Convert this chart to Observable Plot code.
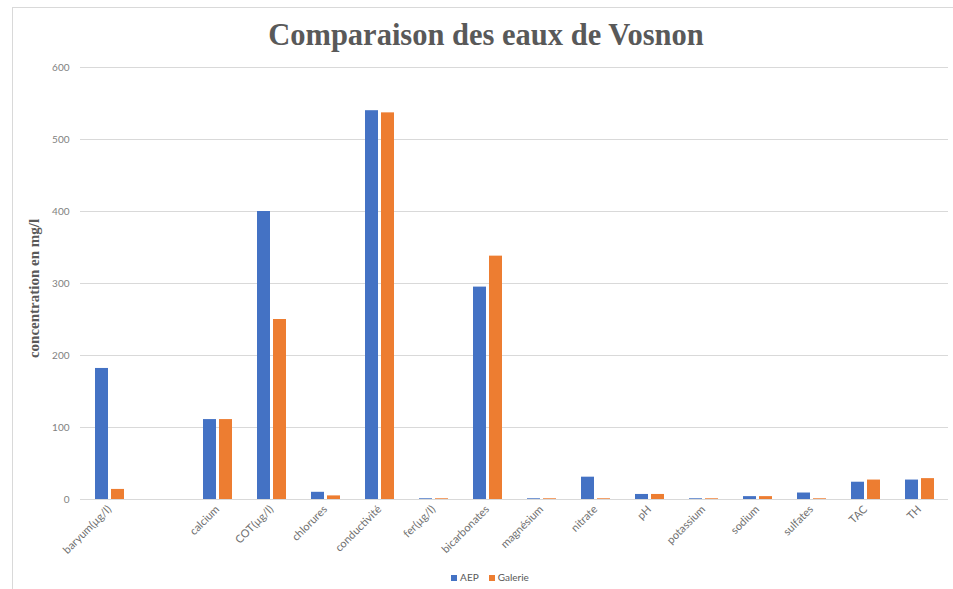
<!DOCTYPE html>
<html>
<head>
<meta charset="utf-8">
<script src="https://cdn.jsdelivr.net/npm/d3@7"></script>
<script src="https://cdn.jsdelivr.net/npm/@observablehq/plot@0.6"></script>
<style>
  html, body { margin: 0; padding: 0; background: #fff; }
  #wrap { position: relative; width: 953px; height: 589px; overflow: hidden; }
  #frame { position: absolute; left: 12px; top: 7px; width: 960px; height: 600px;
           border-left: 1px solid #d9d9d9; border-top: 1px solid #d9d9d9; }
  #title { position: absolute; left: 0; top: 20px; width: 972px; text-align: center;
           font-family: "Liberation Serif", "Times New Roman", serif; font-weight: bold;
           font-size: 30.5px; line-height: 30px; color: #595959; }
  #chart { position: absolute; left: 0; top: 58px; }
  #legend { position: absolute; left: 0; top: 571px; width: 980px; text-align: center;
            font-family: Lato, "Liberation Sans", sans-serif; font-size: 10px; color: #595959; line-height: 12px; }
  #legend span.sw { display: inline-block; width: 6px; height: 6px; margin-right: 3px; vertical-align: 0px; }
  #legend span.item { margin: 0 5px; }
</style>
</head>
<body>
<div id="wrap">
  <div id="frame"></div>
  <div id="title">Comparaison des eaux de Vosnon</div>
  <div id="chart"></div>
  <div id="legend"></div>
</div>
<script>
const categories = ["baryum(µg/l)", "", "calcium", "COT(µg/l)", "chlorures", "conductivité", "fer(µg/l)", "bicarbonates", "magnésium", "nitrate", "pH", "potassium", "sodium", "sulfates", "TAC", "TH"];
const aep     = [182, null, 111, 400, 10, 540, 1, 295, 1, 31, 7, 1, 4, 9, 24, 27];
const galerie = [14, null, 111, 250, 5, 537, 1, 338, 1, 1, 7, 1, 4, 1, 27, 29];
const seriesNames = ["AEP", "Galerie"];
const seriesColors = ["#4472C4", "#ED7D31"];
const yTicks = [0, 100, 200, 300, 400, 500, 600];
const yLabel = "concentration en mg/l";

const rowsAEP = categories.map((c, i) => ({category: c, value: aep[i]})).filter(d => d.value != null);
const rowsGal = categories.map((c, i) => ({category: c, value: galerie[i]})).filter(d => d.value != null);

const chart = Plot.plot({
  width: 953,
  height: 500,
  marginTop: 9,
  marginBottom: 59,
  marginLeft: 80,
  marginRight: 5,
  style: {fontFamily: "Lato, 'Liberation Sans', sans-serif", background: "transparent"},
  x: {type: "band", domain: categories, padding: 0},
  y: {domain: [0, 600]},
  marks: [
    Plot.gridY({ticks: yTicks, stroke: "#d9d9d9", strokeOpacity: 1}),
    Plot.barY(rowsAEP, {x: "category", y: "value", fill: seriesColors[0], insetLeft: 13, insetRight: 28}),
    Plot.barY(rowsGal, {x: "category", y: "value", fill: seriesColors[1], insetLeft: 29, insetRight: 12}),
    Plot.axisY({ticks: yTicks, tickSize: 0, tickPadding: 11, label: null, fontSize: 10, color: "#7f7f7f"}),
    Plot.axisX({tickRotate: -45, tickSize: 0, tickPadding: 8, label: null, fontSize: 11, color: "#6f6f6f"}),
    Plot.text([yLabel], {text: d => d, frameAnchor: "left", textAnchor: "middle", rotate: -90, dx: -46, dy: 5,
      fontFamily: "'Liberation Serif', 'Times New Roman', serif", fontWeight: "bold", fontSize: 15, fill: "#595959"})
  ]
});
document.getElementById("chart").appendChild(chart);

const legend = document.getElementById("legend");
seriesNames.forEach((name, i) => {
  const item = document.createElement("span");
  item.className = "item";
  const sw = document.createElement("span");
  sw.className = "sw";
  sw.style.background = seriesColors[i];
  item.appendChild(sw);
  item.appendChild(document.createTextNode(name));
  legend.appendChild(item);
});
</script>
</body>
</html>
